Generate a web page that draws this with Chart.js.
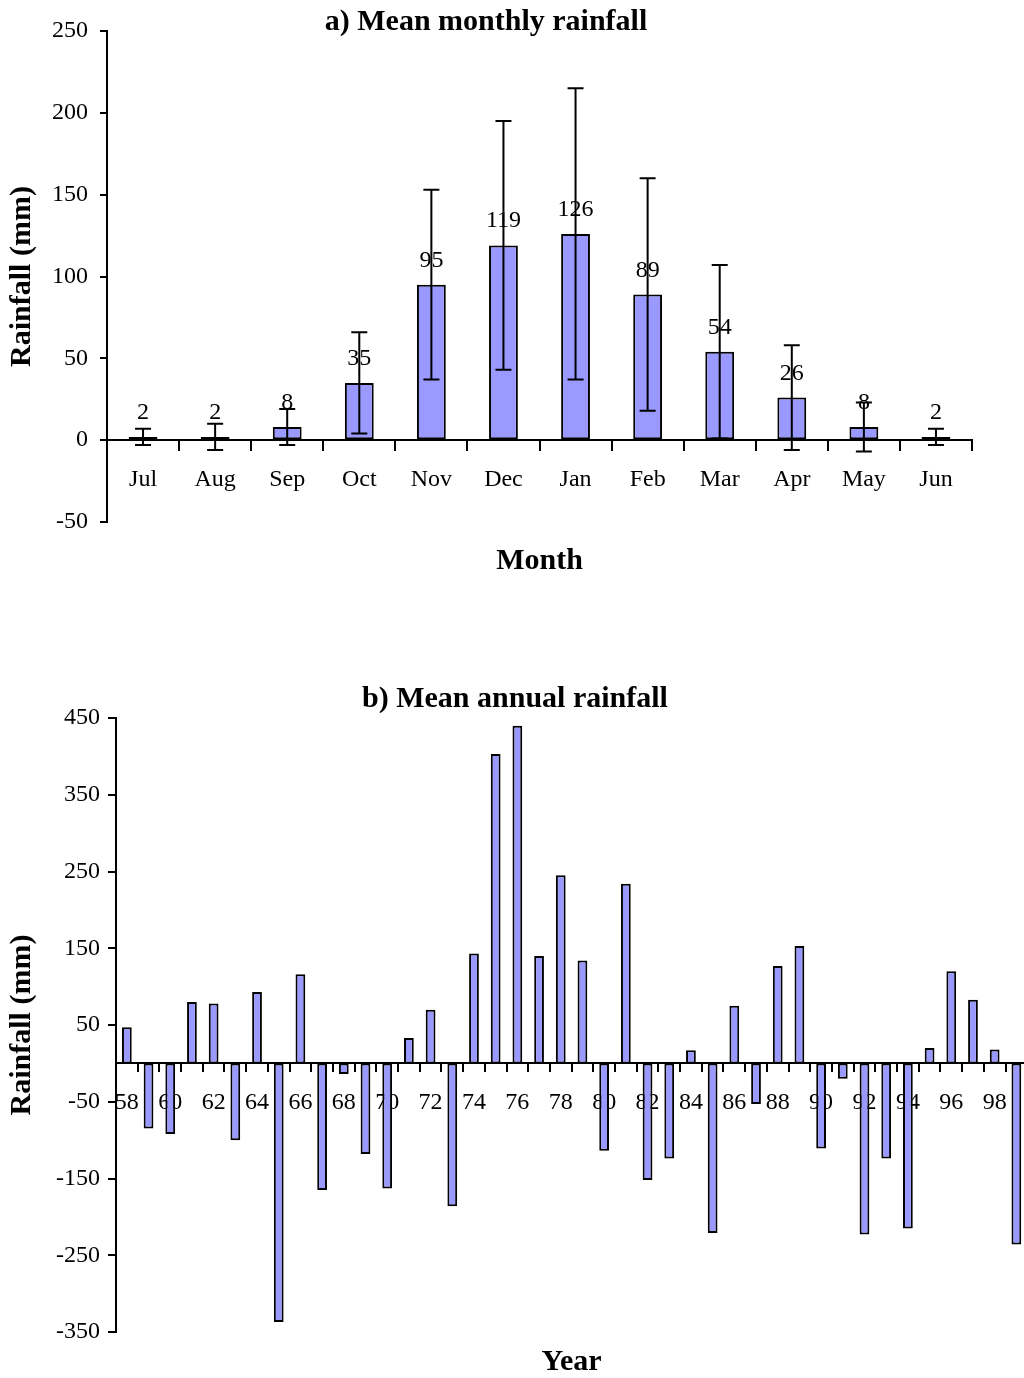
<!DOCTYPE html>
<html>
<head>
<meta charset="utf-8">
<script src="https://cdn.jsdelivr.net/npm/chart.js@4.4.1/dist/chart.umd.min.js"></script>
<style>
body{margin:0;background:#fff;overflow:hidden;width:1024px;height:1378px;position:relative;}
canvas{position:absolute;left:0;}
#monthly{top:0;}
#annual{top:670px;}
</style>
</head>
<body>
<canvas id="monthly" width="974" height="600"></canvas>
<canvas id="annual" width="1033" height="708"></canvas>
<script>
// a) monthly means and their spread
var months = ['Jul','Aug','Sep','Oct','Nov','Dec','Jan','Feb','Mar','Apr','May','Jun'];
var monthlyMean = [2,2,8,35,95,119,126,89,54,26,8,2];
var monthlyErr = [5,8,11,31,58,76,89,71,53,32,15,5];
var monthlyTicks = [-50,0,50,100,150,200,250];

// b) annual departures
var years = ['58','59','60','61','62','63','64','65','66','67','68','69','70','71','72','73','74','75','76','77','78',
	'79','80','81','82','83','84','85','86','87','88','89','90','91','92','93','94','95','96','97','98','99'];
var annualValues = [47,-85,-92,80,78,-100,93,-337,116,-165,-14,-118,-163,33,70,-186,143,403,440,140,245,
	134,-114,234,-152,-124,17,-221,75,-53,127,153,-111,-20,-223,-124,-215,20,120,83,18,-236];
var annualTicks = [-350,-250,-150,-50,50,150,250,350,450];

var serif = "'Liberation Serif','Times New Roman',serif";
Chart.defaults.font.family = serif;
Chart.defaults.color = '#000';

var valueLabels = {
	id: 'valueLabels',
	afterDatasetsDraw: function(chart){
		var ctx = chart.ctx, meta = chart.getDatasetMeta(0);
		ctx.save();
		ctx.font = '24px ' + serif;
		ctx.fillStyle = '#000';
		ctx.textAlign = 'center';
		ctx.textBaseline = 'alphabetic';
		meta.data.forEach(function(bar,i){
			ctx.fillText(String(monthlyMean[i]), bar.x, bar.y - 18);
		});
		ctx.restore();
	}
};

var errorBars = {
	id: 'errorBars',
	afterDatasetsDraw: function(chart){
		var ctx = chart.ctx, meta = chart.getDatasetMeta(0), ys = chart.scales.y;
		ctx.save();
		ctx.strokeStyle = '#000';
		ctx.lineWidth = 2;
		meta.data.forEach(function(bar,i){
			var hi = ys.getPixelForValue(monthlyMean[i] + monthlyErr[i]);
			var lo = ys.getPixelForValue(monthlyMean[i] - monthlyErr[i]);
			ctx.beginPath();
			ctx.moveTo(bar.x, hi); ctx.lineTo(bar.x, lo);
			ctx.moveTo(bar.x - 8, hi); ctx.lineTo(bar.x + 8, hi);
			ctx.moveTo(bar.x - 8, lo); ctx.lineTo(bar.x + 8, lo);
			ctx.stroke();
		});
		ctx.restore();
	}
};

function barSet(values, pct){
	return {
		data: values,
		backgroundColor: '#9999FF',
		borderColor: '#000',
		borderWidth: 2,
		borderSkipped: false,
		categoryPercentage: 1,
		barPercentage: pct
	};
}

new Chart(document.getElementById('monthly').getContext('2d'), {
	type: 'bar',
	data: {labels: months, datasets: [barSet(monthlyMean, 0.4)]},
	plugins: [valueLabels, errorBars],
	options: {
		responsive: false,
		animation: false,
		layout: {padding: {left: 0, right: 2, top: 0, bottom: 78}},
		plugins: {
			legend: {display: false},
			tooltip: {enabled: false},
			title: {display: true, text: 'a) Mean monthly rainfall', color: '#000',
				font: {size: 30, weight: 'bold'}, padding: {top: 4, bottom: -9}}
		},
		scales: {
			x: {
				position: {y: 0},
				offset: true,
				grid: {offset: true, drawOnChartArea: false, tickLength: 10, lineWidth: 2, color: '#000'},
				border: {color: '#000', width: 2},
				ticks: {font: {size: 24}, padding: 15.6, maxRotation: 0, autoSkip: false},
				title: {display: true, text: 'Month', font: {size: 30, weight: 'bold'}, padding: {top: 32.6, bottom: 0}}
			},
			y: {
				min: -50, max: 250,
				afterBuildTicks: function(s){ s.ticks = monthlyTicks.map(function(v){ return {value: v}; }); },
				ticks: {font: {size: 24}, padding: 12},
				grid: {drawOnChartArea: false, tickLength: 7, lineWidth: 2, color: '#000'},
				border: {color: '#000', width: 2},
				title: {display: true, text: 'Rainfall (mm)', font: {size: 30, weight: 'bold'}, padding: {top: 4, bottom: 0}},
				afterFit: function(s){ s.width = 107; }
			}
		}
	}
});

new Chart(document.getElementById('annual').getContext('2d'), {
	type: 'bar',
	data: {labels: years, datasets: [barSet(annualValues, 0.45)]},
	options: {
		responsive: false,
		animation: false,
		layout: {padding: {left: 0, right: 3, top: 0, bottom: 46}},
		plugins: {
			legend: {display: false},
			tooltip: {enabled: false},
			title: {display: true, text: 'b) Mean annual rainfall', color: '#000',
				font: {size: 30, weight: 'bold'}, padding: {top: 11, bottom: 1}}
		},
		scales: {
			x: {
				position: {y: 0},
				offset: true,
				grid: {offset: true, drawOnChartArea: false, tickLength: 8, lineWidth: 2, color: '#000'},
				border: {color: '#000', width: 2},
				ticks: {font: {size: 24}, padding: 16.6, maxRotation: 0, autoSkip: false,
					callback: function(v){ var l = this.getLabelForValue(v); return (+l) % 2 === 0 ? l : ''; }},
				title: {display: true, text: 'Year', font: {size: 30, weight: 'bold'}, padding: {top: 210.6, bottom: -190}}
			},
			y: {
				min: -350, max: 450,
				afterBuildTicks: function(s){ s.ticks = annualTicks.map(function(v){ return {value: v}; }); },
				ticks: {font: {size: 24}, padding: 8},
				grid: {drawOnChartArea: false, tickLength: 8, lineWidth: 2, color: '#000'},
				border: {color: '#000', width: 2},
				title: {display: true, text: 'Rainfall (mm)', font: {size: 30, weight: 'bold'}, padding: {top: 4, bottom: 0}},
				afterFit: function(s){ s.width = 116; }
			}
		}
	}
});
</script>
</body>
</html>
